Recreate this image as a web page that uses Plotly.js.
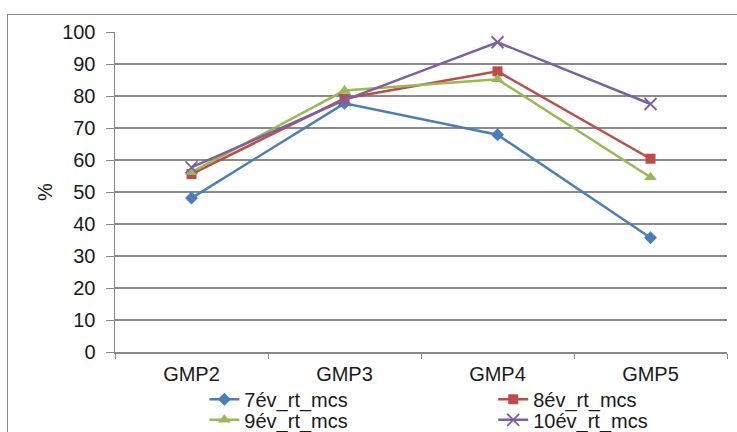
<!DOCTYPE html>
<html><head><meta charset="utf-8">
<script src="https://cdn.plot.ly/plotly-3.0.1.min.js"></script>
<style>
html,body{margin:0;padding:0;background:#fff;overflow:hidden;width:737px;height:432px;}
#frame{position:absolute;left:7px;top:14px;width:740px;height:430px;border:1.5px solid #8a8a8a;box-sizing:border-box;}
#chart{position:absolute;left:0;top:0;width:737px;height:470px;}
</style></head>
<body>
<div id="frame"></div>
<div id="chart"></div>
<script>
const categories = ["GMP2", "GMP3", "GMP4", "GMP5"];
const seriesNames = ["7év_rt_mcs", "8év_rt_mcs", "9év_rt_mcs", "10év_rt_mcs"];
const v7 = [48.1, 77.7, 67.9, 35.7];
const v8 = [55.6, 79.2, 87.7, 60.4];
const v9 = [56.2, 81.7, 85.2, 54.6];
const v10 = [57.7, 78.7, 96.8, 77.5];
const yTicks = [0, 10, 20, 30, 40, 50, 60, 70, 80, 90, 100];

const colors = ["#4A7EBB", "#BE4B48", "#98B954", "#7D60A0"];
const symbols = ["diamond", "square", "triangle-up", "x-thin-open"];
const sizes = [10, 10, 11, 12];
const legendIds = ["legend", "legend2", "legend3", "legend4"];
const data = [v7, v8, v9, v10].map((vals, i) => ({
  type: "scatter", mode: "lines+markers", name: seriesNames[i],
  x: categories, y: vals, legend: legendIds[i],
  line: {color: colors[i], width: 2.5},
  marker: {symbol: symbols[i], size: sizes[i], color: colors[i],
           line: {color: colors[i], width: i === 3 ? 1.8 : 0}}
}));

const font = {family: "Arial, Liberation Sans, sans-serif", size: 20, color: "#1a1a1a"};
const legFont = {family: "Arial, Liberation Sans, sans-serif", size: 20, color: "#1a1a1a"};
function leg(x, y) {
  return {orientation: "h", x: x, xanchor: "left", y: y, yanchor: "middle",
          font: legFont, bgcolor: "rgba(0,0,0,0)", itemwidth: 30};
}
const col1 = 0.146, col2 = 0.618, row1 = -0.148, row2 = -0.212;
const layout = {
  width: 737, height: 470,
  margin: {l: 115, r: 10, t: 32, b: 118},
  paper_bgcolor: "rgba(0,0,0,0)", plot_bgcolor: "rgba(0,0,0,0)",
  font: font,
  showlegend: true,
  legend: leg(col1, row1), legend2: leg(col2, row1),
  legend3: leg(col1, row2), legend4: leg(col2, row2),
  xaxis: {type: "category", showgrid: false, showline: true, linecolor: "#888", linewidth: 1.5,
          ticks: "outside", tickson: "boundaries", ticklen: 5, tickcolor: "#888",
          range: [-0.5, 3.5], tickfont: font, zeroline: false, ticklabelstandoff: 3},
  yaxis: {range: [0, 100], tickvals: yTicks, showgrid: true, gridcolor: "#8a8a8a", gridwidth: 1.4,
          showline: true, linecolor: "#888", linewidth: 1.5, ticks: "outside", ticklen: 8,
          tickcolor: "#888", tickfont: font, zeroline: false, ticklabelstandoff: 6,
          title: {text: "%", font: font, standoff: 4}}
};
Plotly.newPlot("chart", data, layout, {displayModeBar: false, staticPlot: true});
</script>
</body></html>
